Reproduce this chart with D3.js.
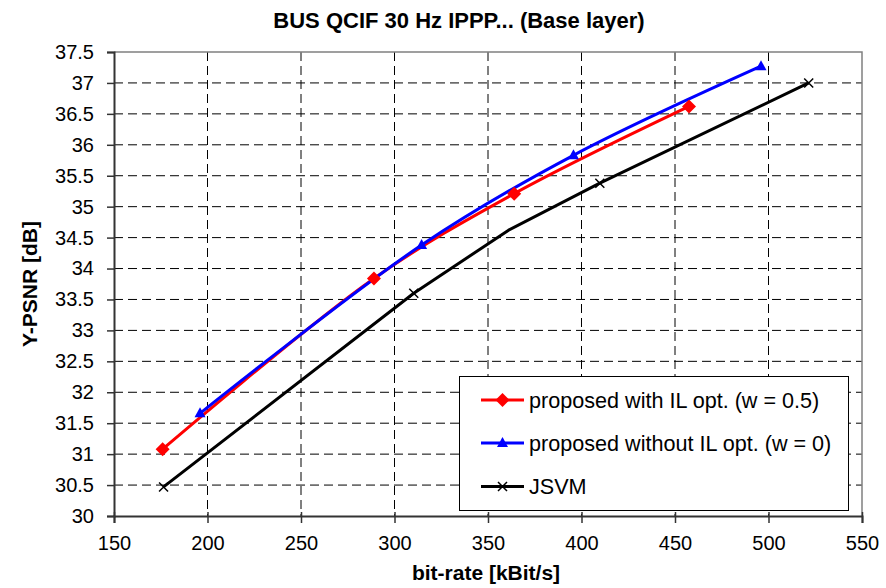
<!DOCTYPE html>
<html><head><meta charset="utf-8">
<script src="https://cdn.jsdelivr.net/npm/d3@7"></script>
<style>
html,body{margin:0;padding:0;background:#fff;}
svg{display:block;font-family:"Liberation Sans",Arial,sans-serif;}
</style></head>
<body>
<svg id="chart" width="886" height="588"></svg>
<script>
// ---- data ----
const titleText = "BUS QCIF 30 Hz IPPP... (Base layer)";
const xTitle = "bit-rate [kBit/s]";
const yTitle = "Y-PSNR [dB]";
const xTicks = [150, 200, 250, 300, 350, 400, 450, 500, 550];
const yTicks = [30, 30.5, 31, 31.5, 32, 32.5, 33, 33.5, 34, 34.5, 35, 35.5, 36, 36.5, 37, 37.5];

const seriesNames = ["proposed with IL opt. (w = 0.5)", "proposed without IL opt. (w = 0)", "JSVM"];
const rateW05 = [176, 289, 364, 457.5];
const psnrW05 = [31.08, 33.84, 35.21, 36.62];
const rateW0 = [196, 314.5, 395.7, 496];
const psnrW0 = [31.66, 34.38, 35.83, 37.27];
const rateJSVM = [176.5, 310.3, 361, 409.8, 521.5];
const psnrJSVM = [30.47, 33.6, 34.62, 35.38, 37.0];
const markJSVM = [true, true, false, true, true];

// ---- layout ----
const svg = d3.select("#chart");
const L = 114, R = 862, T = 52, B = 516;
const x = d3.scaleLinear().domain([150, 550]).range([L, R]);
const y = d3.scaleLinear().domain([30, 37.5]).range([B, T]);

// gridlines
const grid = svg.append("g");
grid.selectAll(".gx").data(xTicks.slice(1, -1)).enter().append("line")
  .attr("x1", d => x(d)).attr("x2", d => x(d)).attr("y1", T).attr("y2", B)
  .attr("stroke", "#000").attr("stroke-width", 1).attr("stroke-dasharray", "9,5");
grid.selectAll(".gy").data(yTicks.slice(1, -1)).enter().append("line")
  .attr("x1", L).attr("x2", R).attr("y1", d => y(d)).attr("y2", d => y(d))
  .attr("stroke", "#000").attr("stroke-width", 1).attr("stroke-dasharray", "9,5");

// plot frame top/right (grey)
svg.append("path").attr("d", `M${L},${T}H${R}V${B}`).attr("fill", "none")
  .attr("stroke", "#808080").attr("stroke-width", 1.5);

// axes
const xAxis = d3.axisBottom(x).tickValues(xTicks).tickSize(7).tickPadding(13).tickFormat(d3.format("d"));
const gx = svg.append("g").attr("transform", `translate(0,${B})`).call(xAxis);
gx.select(".domain").attr("stroke", "#333").attr("stroke-width", 2);
gx.selectAll(".tick line").attr("stroke", "#333").attr("stroke-width", 1.5).attr("y1", -4);
gx.selectAll(".tick text").attr("font-size", 20).attr("fill", "#000");

const yAxis = d3.axisLeft(y).tickValues(yTicks).tickSize(7).tickPadding(13).tickFormat(d => d3.format("")(d));
const gy = svg.append("g").attr("transform", `translate(${L},0)`).call(yAxis);
gy.select(".domain").attr("stroke", "#333").attr("stroke-width", 2);
gy.selectAll(".tick line").attr("stroke", "#333").attr("stroke-width", 1.5);
gy.selectAll(".tick text").attr("font-size", 20).attr("fill", "#000").attr("dx", 0);

// titles
svg.append("text").attr("x", 459).attr("y", 28).attr("text-anchor", "middle")
  .attr("font-size", 22).attr("font-weight", "bold").text(titleText);
svg.append("text").attr("x", 486).attr("y", 580).attr("text-anchor", "middle")
  .attr("font-size", 21).attr("font-weight", "bold").text(xTitle);
svg.append("text").attr("transform", `translate(37,${(T + B) / 2}) rotate(-90)`).attr("text-anchor", "middle")
  .attr("font-size", 21).attr("font-weight", "bold").text(yTitle);

// series
const curve = d3.curveCatmullRom.alpha(0.5);
function drawLine(xs, ys, color, c) {
  const pts = xs.map((v, i) => [x(v), y(ys[i])]);
  svg.append("path").attr("d", d3.line().curve(c)(pts)).attr("fill", "none")
    .attr("stroke", color).attr("stroke-width", 3).attr("stroke-linejoin", "round");
}
drawLine(rateJSVM, psnrJSVM, "#000", d3.curveLinear);
drawLine(rateW05, psnrW05, "#ff0000", curve);
drawLine(rateW0, psnrW0, "#0000ff", curve);

function diamond(g, cx, cy, color) {
  g.append("path").attr("d", `M${cx},${cy - 7}L${cx + 7},${cy}L${cx},${cy + 7}L${cx - 7},${cy}Z`).attr("fill", color);
}
function triangle(g, cx, cy, color) {
  g.append("path").attr("d", `M${cx},${cy - 6}L${cx + 5.5},${cy + 4}L${cx - 5.5},${cy + 4}Z`).attr("fill", color);
}
function cross(g, cx, cy, color) {
  g.append("path").attr("d", `M${cx - 4.5},${cy - 4.5}L${cx + 4.5},${cy + 4.5}M${cx - 4.5},${cy + 4.5}L${cx + 4.5},${cy - 4.5}`)
    .attr("stroke", color).attr("stroke-width", 1.5);
}
const mk = svg.append("g");
rateJSVM.forEach((v, i) => { if (markJSVM[i]) cross(mk, x(v), y(psnrJSVM[i]), "#000"); });
rateW05.forEach((v, i) => diamond(mk, x(v), y(psnrW05[i]), "#ff0000"));
rateW0.forEach((v, i) => triangle(mk, x(v), y(psnrW0[i]), "#0000ff"));

// legend
const lg = svg.append("g");
lg.append("rect").attr("x", 459.5).attr("y", 376.5).attr("width", 389).attr("height", 134)
  .attr("fill", "#fff").attr("stroke", "#000").attr("stroke-width", 1);
const legY = [400, 443, 486.5];
const legColors = ["#ff0000", "#0000ff", "#000"];
const legMarks = [diamond, triangle, cross];
seriesNames.forEach((n, i) => {
  lg.append("line").attr("x1", 481).attr("x2", 524).attr("y1", legY[i]).attr("y2", legY[i])
    .attr("stroke", legColors[i]).attr("stroke-width", 3);
  legMarks[i](lg, 502.5, legY[i], legColors[i]);
  lg.append("text").attr("x", 529).attr("y", legY[i] + 7.5).attr("font-size", 21.6).attr("fill", "#000").text(n);
});
</script>
</body></html>
